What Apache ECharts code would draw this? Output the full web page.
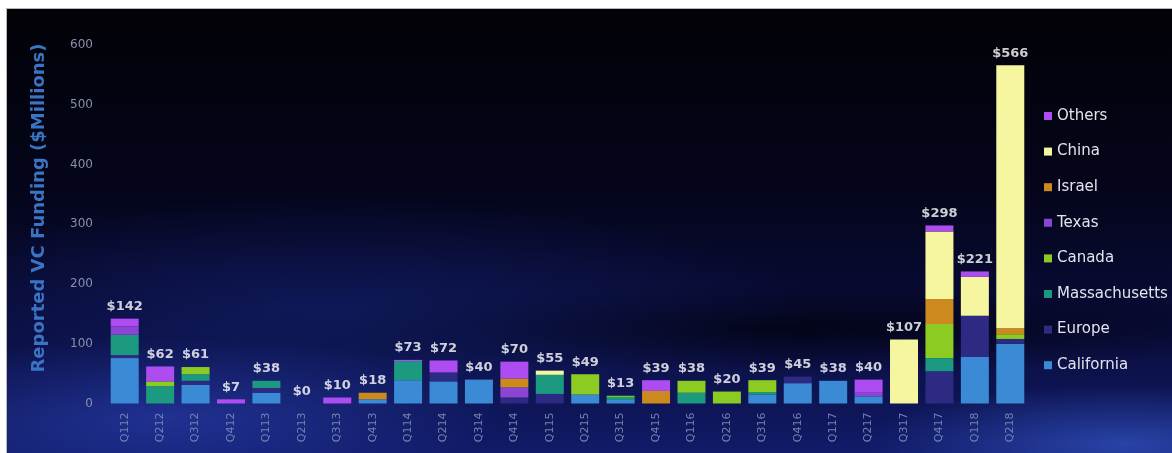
<!DOCTYPE html>
<html>
<head>
<meta charset="utf-8">
<script src="https://cdn.jsdelivr.net/npm/echarts@6/dist/echarts.min.js"></script>
<style>
  html, body { margin: 0; padding: 0; background: #ffffff; width: 1172px; height: 453px; overflow: hidden; }
  #chart {
    position: absolute; left: 6px; top: 8px; width: 1166px; height: 445px;
    border-top: 1px solid #b8b8b8; border-left: 1px solid #b8b8b8; box-sizing: border-box;
    background:
      radial-gradient(ellipse 38% 24% at 14% 92%, rgba(45,70,190,0.55), rgba(45,70,190,0) 75%),
      radial-gradient(ellipse 30% 18% at 96% 98%, rgba(60,100,220,0.55), rgba(60,100,220,0) 75%),
      radial-gradient(ellipse 55% 34% at 28% 68%, rgba(22,38,125,0.5), rgba(22,38,125,0) 75%),
      radial-gradient(ellipse 60% 12% at 65% 72%, rgba(0,0,8,0.7), rgba(0,0,8,0) 80%),
      linear-gradient(180deg, #020207 0%, #04051a 40%, #090c38 70%, #111b68 100%);
  }
</style>
</head>
<body>
<div id="chart"></div>
<script>
// Quarterly reported VC funding by region ($ millions)
const quarters = ['Q112','Q212','Q312','Q412','Q113','Q213','Q313','Q413','Q114','Q214','Q314','Q414','Q115',
  'Q215','Q315','Q415','Q116','Q216','Q316','Q416','Q117','Q217','Q317','Q417','Q118','Q218'];

const california    = [76, 0, 31, 0, 18, 0, 0, 7, 39, 37, 40, 0, 0, 15, 6, 0, 0, 0, 15, 34, 38, 12, 0, 0, 78, 100];
const europe        = [5, 0, 7, 0, 8, 0, 0, 0, 0, 15, 0, 10, 16, 0, 0, 0, 0, 0, 0, 11, 0, 0, 0, 54, 69, 8];
const massachusetts = [34, 29, 11, 0, 12, 0, 0, 0, 32, 0, 0, 0, 32, 0, 5, 0, 18, 0, 4, 0, 0, 0, 0, 22, 0, 0];
const canada        = [0, 8, 12, 0, 0, 0, 0, 0, 0, 0, 0, 0, 0, 34, 2, 0, 20, 20, 20, 0, 0, 0, 0, 57, 0, 8];
const texas         = [14, 0, 0, 0, 0, 0, 0, 0, 0, 0, 0, 17, 0, 0, 0, 0, 0, 0, 0, 0, 0, 6, 0, 0, 0, 0];
const israel        = [0, 0, 0, 0, 0, 0, 0, 11, 0, 0, 0, 15, 0, 0, 0, 21, 0, 0, 0, 0, 0, 0, 0, 42, 0, 10];
const china         = [0, 0, 0, 0, 0, 0, 0, 0, 0, 0, 0, 0, 7, 0, 0, 0, 0, 0, 0, 0, 0, 0, 107, 113, 65, 440];
const others        = [13, 25, 0, 7, 0, 0, 10, 0, 2, 20, 0, 28, 0, 0, 0, 18, 0, 0, 0, 0, 0, 22, 0, 10, 9, 0];

const yTicks = [0, 100, 200, 300, 400, 500, 600];

const regions = [
  { name: 'California',    data: california,    color: '#3b8ad6' },
  { name: 'Europe',        data: europe,        color: '#2d2a84' },
  { name: 'Massachusetts', data: massachusetts, color: '#1b9a80' },
  { name: 'Canada',        data: canada,        color: '#8ccb22' },
  { name: 'Texas',         data: texas,         color: '#8b45d4' },
  { name: 'Israel',        data: israel,        color: '#cc8a1e' },
  { name: 'China',         data: china,         color: '#f6f6a0' },
  { name: 'Others',        data: others,        color: '#ad4cf0' }
];

// quarter totals shown above each stack
const totals = quarters.map((_, i) => regions.reduce((s, r) => s + r.data[i], 0));

const chart = echarts.init(document.getElementById('chart'), null, { renderer: 'canvas' });

const series = regions.map(r => ({
  name: r.name,
  type: 'bar',
  stack: 'funding',
  data: r.data,
  barWidth: 28,
  itemStyle: { color: r.color },
  emphasis: { disabled: true }
}));

series.push({
  name: 'Total',
  type: 'scatter',
  data: totals,
  symbolSize: 1,
  itemStyle: { color: 'rgba(0,0,0,0)' },
  z: 10,
  label: {
    show: true,
    position: 'top',
    distance: 5,
    formatter: p => '$' + p.value,
    color: '#ffffff',
    fontFamily: 'DejaVu Sans',
    fontWeight: 'bold',
    fontSize: 13
  }
});

chart.setOption({
  backgroundColor: 'transparent',
  animation: false,
  grid: { left: 100, right: 144, top: 36, bottom: 49.5 },
  xAxis: {
    type: 'category',
    data: quarters,
    axisLine: { show: false },
    axisTick: { show: false },
    axisLabel: {
      rotate: 90,
      margin: 9,
      color: '#7480b0',
      fontFamily: 'DejaVu Sans',
      fontSize: 11
    }
  },
  yAxis: {
    type: 'value',
    min: yTicks[0],
    max: yTicks[yTicks.length - 1],
    interval: 100,
    splitLine: { show: false },
    axisLine: { show: false },
    axisTick: { show: false },
    axisLabel: {
      margin: 14,
      color: '#8891a8',
      fontFamily: 'DejaVu Sans',
      fontSize: 12
    }
  },
  legend: {
    orient: 'vertical',
    left: 1032,
    top: 94,
    itemWidth: 8,
    itemHeight: 8,
    itemGap: 19.6,
    icon: 'rect',
    data: ['Others', 'China', 'Israel', 'Texas', 'Canada', 'Massachusetts', 'Europe', 'California'],
    textStyle: {
      color: '#e4e4ec',
      fontFamily: 'DejaVu Sans',
      fontSize: 15,
      lineHeight: 16
    }
  },
  graphic: [{
    type: 'text',
    x: 32,
    y: 199,
    rotation: Math.PI / 2,
    style: {
      text: 'Reported VC Funding ($Millions)',
      fill: '#3a74c4',
      font: 'bold 18px "DejaVu Sans"',
      textAlign: 'center',
      textVerticalAlign: 'middle'
    }
  }],
  series: series
});
</script>
</body>
</html>
